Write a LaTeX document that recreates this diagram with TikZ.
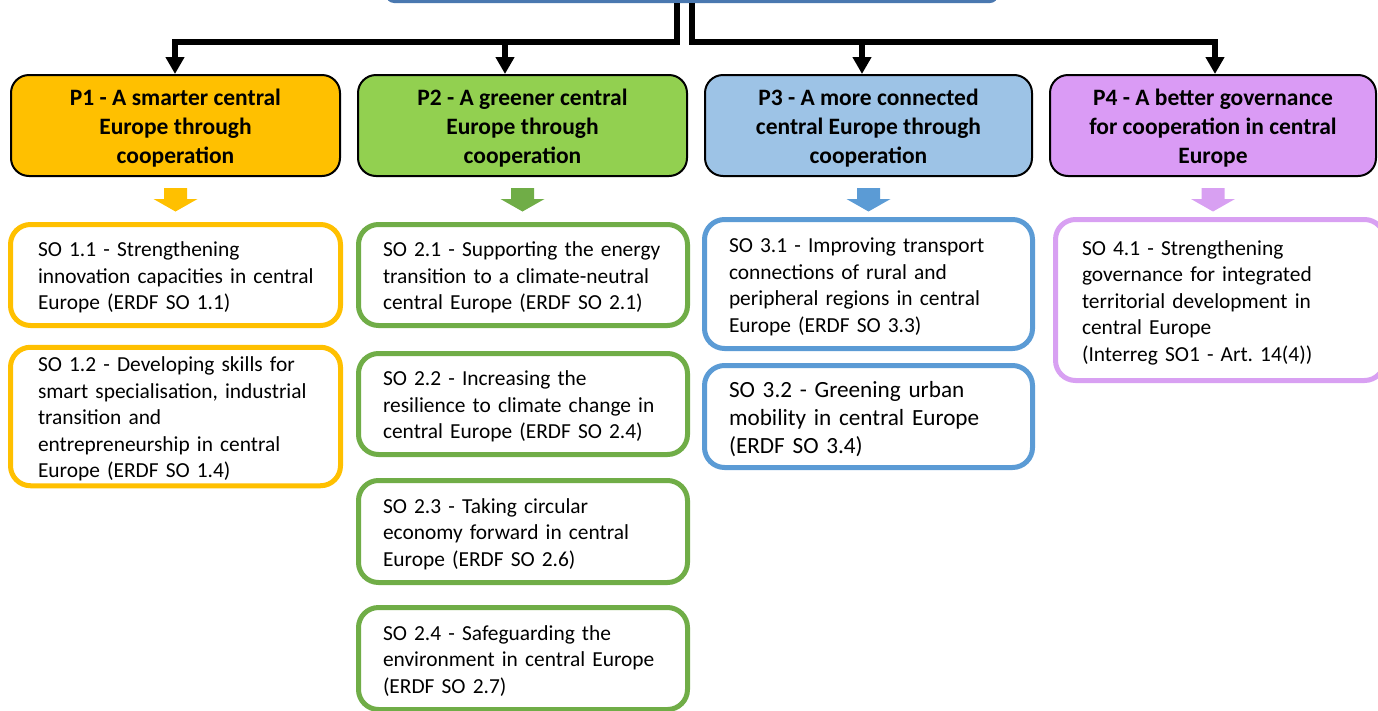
\documentclass[tikz,border=0pt]{standalone}
\usepackage{fontspec}
\setmainfont{Carlito}
\usetikzlibrary{arrows.meta}
\frenchspacing
\definecolor{cTop}{RGB}{74,120,176}
\definecolor{cYel}{HTML}{FFC000}
\definecolor{cGrnF}{HTML}{92D050}
\definecolor{cGrn}{HTML}{70AD47}
\definecolor{cBluF}{HTML}{9DC3E6}
\definecolor{cBlu}{HTML}{5B9BD5}
\definecolor{cPurF}{RGB}{218,155,245}
\definecolor{cPur}{RGB}{216,160,242}
\newlength\myind
\newcommand\mydown[1]{\raisebox{-3pt}[\dimexpr\height+3pt\relax][\dimexpr\depth+3pt\relax]{#1}}
\newcommand\myleft[1]{\hspace*{\myind}\mydown{\begin{tabular}{@{}l@{}}#1\end{tabular}}}
\newcommand\mycent[1]{\mydown{\begin{tabular}{@{}c@{}}#1\end{tabular}}}
\newcommand\mysob[8][]{%
  \pgfmathsetmacro\mycx{(#3+#5)/2}\pgfmathsetmacro\mycy{(#4+#6)/2}%
  \pgfmathsetmacro\myww{#5-#3-5}\pgfmathsetmacro\myhh{#6-#4-5}\pgfmathsetmacro\mytw{#5-#3-54}%
  \node[sobox,draw=#7,minimum width=\myww pt,minimum height=\myhh pt,text width=\mytw pt,#1] (#2) at (\mycx,\mycy) {\myleft{#8}};}
\newcommand\mypb[7]{%
  \pgfmathsetmacro\mycx{(#2+#4)/2}\pgfmathsetmacro\mycy{(#3+#5)/2}%
  \pgfmathsetmacro\myww{#4-#2-2}\pgfmathsetmacro\myhh{#5-#3-2}%
  \node[pbox,fill=#6,minimum width=\myww pt,minimum height=\myhh pt] (#1) at (\mycx,\mycy) {\mycent{#7}};}
\newcommand\myfat[2]{%
  \fill[#2] (#1-11.5,188) -- (#1+11.5,188) -- (#1+11.5,199) -- (#1+22,199) -- (#1,211.5) -- (#1-22,199) -- (#1-11.5,199) -- cycle;}
\begin{document}
\begin{tikzpicture}[x=1pt,y=-1pt,
  sobox/.style={rectangle,line width=5pt,rounded corners=20pt,fill=white,align=left,
    inner xsep=0pt,inner ysep=0pt,font=\fontsize{21.4}{26.5}\selectfont},
  pbox/.style={rectangle,draw=black,line width=2pt,rounded corners=18pt,align=center,
    inner xsep=0pt,inner ysep=0pt,font=\bfseries\fontsize{23.5}{29}\selectfont},
  conn/.style={draw=black,line width=5.5pt,-{Triangle[width=18pt,length=17pt]}}]
\useasboundingbox (0,0) rectangle (1378,710);
% top box (cut off)
\node[rectangle,fill=cTop,rounded corners=8pt,minimum width=612pt,minimum height=44pt,inner sep=0pt] (top) at (692,-19) {};
% priority boxes
\mypb{p1}{10}{74}{341}{177}{cYel}{P1 - A smarter central\\Europe through\\cooperation}
\mypb{p2}{357}{74}{688}{177}{cGrnF}{P2 - A greener central\\Europe through\\cooperation}
\mypb{p3}{704}{74}{1033}{177}{cBluF}{P3 - A more connected\\central Europe through\\cooperation}
\mypb{p4}{1049}{74}{1377}{177}{cPurF}{P4 - A better governance\\for cooperation in central\\Europe}
% connectors
\coordinate (j1) at (top.south -| 677,0);
\coordinate (j2) at (top.south -| 692,0);
\coordinate (hL) at (677,42);
\coordinate (hR) at (692,42);
\coordinate (x1) at (175,0);
\coordinate (x2) at (505,0);
\coordinate (x3) at (862,0);
\coordinate (x4) at (1215,0);
\draw[conn] (j1) -- (hL) -| (p1.north -| x1);
\draw[conn] (hL -| x2) -- (p2.north -| x2);
\draw[conn] (j2) -- (hR) -| (p4.north -| x4);
\draw[conn] (hR -| x3) -- (p3.north -| x3);
% small arrows
\myfat{175.5}{cYel}
\myfat{522.5}{cGrn}
\myfat{868.5}{cBlu}
\myfat{1213}{cPur}
% specific objectives
\setlength\myind{3pt}
\mysob{so11}{8}{222}{343}{328}{cYel}{SO 1.1 - Strengthening\\innovation capacities in central\\Europe (ERDF SO 1.1)}
\mysob{so12}{8}{350}{343}{483}{cYel}{SO 1.2 - Developing skills for\\smart specialisation, industrial\\transition and\\entrepreneurship in central\\Europe (ERDF SO 1.4)}
\setlength\myind{0pt}
\mysob{so21}{356}{222}{690}{328}{cGrn}{SO 2.1 - Supporting the energy\\transition to a climate-neutral\\central Europe (ERDF SO 2.1)}
\mysob{so22}{356}{351}{690}{457}{cGrn}{SO 2.2 - Increasing the\\resilience to climate change in\\central Europe (ERDF SO 2.4)}
\mysob{so23}{356}{478}{690}{585}{cGrn}{SO 2.3 - Taking circular\\economy forward in central\\Europe (ERDF SO 2.6)}
\mysob{so24}{356}{605}{690}{712}{cGrn}{SO 2.4 - Safeguarding the\\environment in central Europe\\(ERDF SO 2.7)}
\mysob{so31}{702}{217}{1035}{351}{cBlu}{SO 3.1 - Improving transport\\connections of rural and\\peripheral regions in central\\Europe (ERDF SO 3.3)}
\mysob[font=\fontsize{23.2}{28}\selectfont]{so32}{702}{363}{1035}{470}{cBlu}{SO 3.2 - Greening urban\\mobility in central Europe\\(ERDF SO 3.4)}
\setlength\myind{2pt}
\mysob{so41}{1053}{217}{1387}{383}{cPur}{SO 4.1 - Strengthening\\governance for integrated\\territorial development in\\central Europe\\(Interreg SO1 - Art. 14(4))}
\end{tikzpicture}
\end{document}
